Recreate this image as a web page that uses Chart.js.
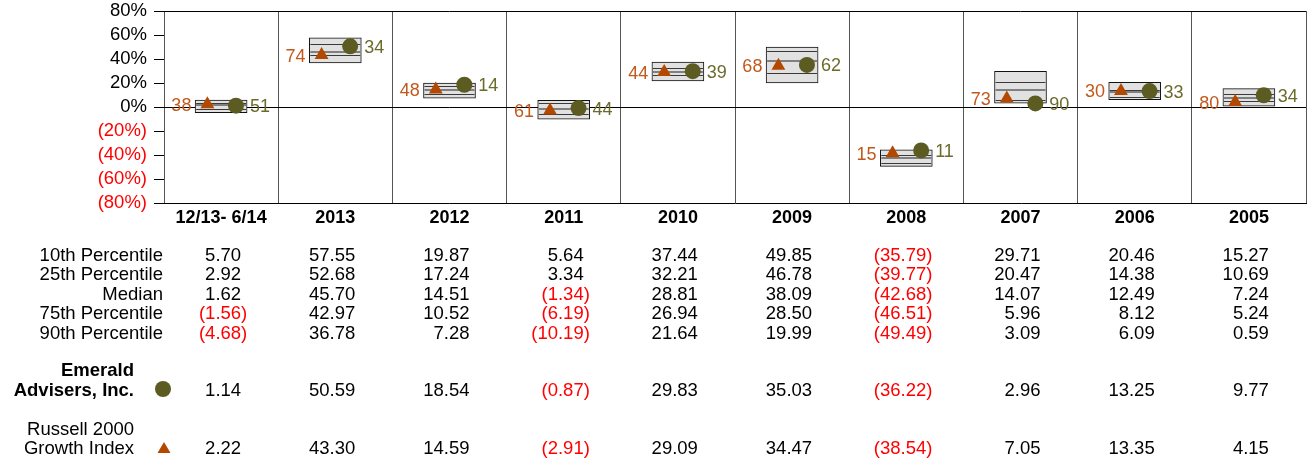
<!DOCTYPE html>
<html>
<head>
<meta charset="utf-8">
<script src="https://cdn.jsdelivr.net/npm/chart.js@4.4.1/dist/chart.umd.min.js"></script>
<style>
  html, body { margin: 0; padding: 0; background: #fff; overflow: hidden; }
  canvas { display: block; }
</style>
</head>
<body>
<canvas id="peerChart" width="1307" height="460"></canvas>
<script>
// periods shown across the chart
const categories = ['12/13- 6/14', '2013', '2012', '2011', '2010', '2009', '2008', '2007', '2006', '2005'];

// peer universe percentiles (returns in %)
const p10 = [5.70, 57.55, 19.87, 5.64, 37.44, 49.85, -35.79, 29.71, 20.46, 15.27];
const p25 = [2.92, 52.68, 17.24, 3.34, 32.21, 46.78, -39.77, 20.47, 14.38, 10.69];
const median = [1.62, 45.70, 14.51, -1.34, 28.81, 38.09, -42.68, 14.07, 12.49, 7.24];
const p75 = [-1.56, 42.97, 10.52, -6.19, 26.94, 28.50, -46.51, 5.96, 8.12, 5.24];
const p90 = [-4.68, 36.78, 7.28, -10.19, 21.64, 19.99, -49.49, 3.09, 6.09, 0.59];

// manager and benchmark
const emerald = [1.14, 50.59, 18.54, -0.87, 29.83, 35.03, -36.22, 2.96, 13.25, 9.77];
const russell = [2.22, 43.30, 14.59, -2.91, 29.09, 34.47, -38.54, 7.05, 13.35, 4.15];
const emeraldRank = [51, 34, 14, 44, 39, 62, 11, 90, 33, 34];
const russellRank = [38, 74, 48, 61, 44, 68, 15, 73, 30, 80];

const yTicks = [-80, -60, -40, -20, 0, 20, 40, 60, 80];

const FONT = '"Liberation Sans", Arial, sans-serif';
const OLIVE = '#5b5b22';
const OLIVE_TEXT = '#6b6b2c';
const ORANGE = '#b34800';
const ORANGE_TEXT = '#c2591b';
const RED = '#ff0000';

function fmt(v) {
    return v < 0 ? '(' + Math.abs(v).toFixed(2) + ')' : v.toFixed(2);
}

function noPadding(scale) {
    scale.paddingLeft = 0;
    scale.paddingRight = 0;
    scale.paddingTop = 0;
    scale.paddingBottom = 0;
}

// the plot frame runs almost to the right edge of the canvas
const stretchRight = {
    id: 'stretchRight',
    afterLayout(chart) {
        const area = chart.chartArea;
        const right = chart.width - 1;
        area.right = right;
        area.width = right - area.left;
        ['x', 'xp'].forEach(id => {
            const s = chart.scales[id];
            s.left = area.left;
            s.right = right;
            s.width = right - area.left;
            s.configure();
        });
    }
};

// 25th / median / 75th lines inside each box
const boxLines = {
    id: 'boxLines',
    afterDatasetDraw(chart, args) {
        if (args.index !== 0) return;
        const ctx = chart.ctx;
        const y = chart.scales.y;
        ctx.save();
        args.meta.data.forEach((bar, i) => {
            const l = bar.x - bar.width / 2 + 1;
            const r = bar.x + bar.width / 2 - 1;
            [[p25[i], '#3a3a3a', 1], [median[i], '#808080', 2], [p75[i], '#3a3a3a', 1]].forEach(([v, c, w]) => {
                const py = Math.round(y.getPixelForValue(v)) + (w === 1 ? 0.5 : 0);
                ctx.strokeStyle = c;
                ctx.lineWidth = w;
                ctx.beginPath();
                ctx.moveTo(l, py);
                ctx.lineTo(r, py);
                ctx.stroke();
            });
        });
        ctx.restore();
    }
};

// rank labels beside the markers
const rankLabels = {
    id: 'rankLabels',
    afterDatasetsDraw(chart) {
        const ctx = chart.ctx;
        ctx.save();
        ctx.font = '18px ' + FONT;
        ctx.textBaseline = 'alphabetic';
        chart.getDatasetMeta(1).data.forEach((pt, i) => {
            ctx.fillStyle = OLIVE_TEXT;
            ctx.textAlign = 'left';
            ctx.fillText(emeraldRank[i], pt.x + 14, pt.y + 6.5);
        });
        chart.getDatasetMeta(2).data.forEach((pt, i) => {
            ctx.fillStyle = ORANGE_TEXT;
            ctx.textAlign = 'right';
            ctx.fillText(russellRank[i], pt.x - 16, pt.y + 6.5);
        });
        ctx.restore();
    }
};

// data table under the chart
const dataTable = {
    id: 'dataTable',
    afterDraw(chart) {
        const ctx = chart.ctx;
        const x = chart.scales.x;
        ctx.save();
        ctx.font = '18.5px ' + FONT;
        ctx.textBaseline = 'alphabetic';
        const parenW = ctx.measureText(')').width;

        const rows = [
            ['10th Percentile', p10, 261],
            ['25th Percentile', p25, 280],
            ['Median', median, 299.5],
            ['75th Percentile', p75, 319],
            ['90th Percentile', p90, 338.5],
            [null, emerald, 396],
            [null, russell, 454]
        ];
        rows.forEach(([label, vals, by]) => {
            if (label) {
                ctx.fillStyle = '#000';
                ctx.textAlign = 'right';
                ctx.fillText(label, 163, by);
            }
            vals.forEach((v, i) => {
                const cx = x.getPixelForValue(i) + 20;
                ctx.textAlign = 'right';
                ctx.fillStyle = v < 0 ? RED : '#000';
                ctx.fillText(fmt(v), v < 0 ? cx + parenW : cx, by);
            });
        });

        // series labels
        ctx.textAlign = 'right';
        ctx.fillStyle = '#000';
        ctx.font = 'bold 18.5px ' + FONT;
        ctx.fillText('Emerald', 134, 376);
        ctx.fillText('Advisers, Inc.', 134, 396);
        ctx.font = '18.5px ' + FONT;
        ctx.fillText('Russell 2000', 134, 435);
        ctx.fillText('Growth Index', 134, 454);

        // legend markers
        ctx.fillStyle = OLIVE;
        ctx.beginPath();
        ctx.arc(163, 389, 8, 0, Math.PI * 2);
        ctx.fill();
        ctx.fillStyle = ORANGE;
        ctx.beginPath();
        ctx.moveTo(164, 442);
        ctx.lineTo(170.5, 453);
        ctx.lineTo(157.5, 453);
        ctx.closePath();
        ctx.fill();
        ctx.restore();
    }
};

const ctx = document.getElementById('peerChart').getContext('2d');
new Chart(ctx, {
    type: 'bar',
    data: {
        labels: categories,
        datasets: [
            {
                label: 'Peer range',
                data: p10.map((v, i) => [p90[i], v]),
                backgroundColor: '#e1e1e1',
                borderColor: '#111',
                borderWidth: 1,
                borderSkipped: false,
                grouped: false,
                barThickness: 52,
                maxBarThickness: 52,
                order: 3
            },
            {
                type: 'scatter',
                label: 'Emerald Advisers, Inc.',
                xAxisID: 'xp',
                data: emerald.map((v, i) => ({ x: i + 0.13, y: v })),
                pointStyle: 'circle',
                pointRadius: 8,
                backgroundColor: OLIVE,
                borderColor: OLIVE,
                borderWidth: 0,
                order: 1
            },
            {
                type: 'scatter',
                label: 'Russell 2000 Growth Index',
                xAxisID: 'xp',
                data: russell.map((v, i) => ({ x: i - 0.12, y: v })),
                pointStyle: 'triangle',
                pointRadius: 8,
                backgroundColor: ORANGE,
                borderColor: ORANGE,
                borderWidth: 0,
                order: 2
            }
        ]
    },
    options: {
        responsive: false,
        animation: false,
        layout: { padding: { top: 11, right: 1, left: 0, bottom: 0 } },
        plugins: {
            legend: { display: false },
            tooltip: { enabled: false }
        },
        scales: {
            x: {
                offset: true,
                grid: {
                    offset: true,
                    color: '#555',
                    lineWidth: 1,
                    drawTicks: false
                },
                border: { display: true, color: '#000' },
                ticks: {
                    color: '#000',
                    font: { family: FONT, size: 18, weight: 'bold' },
                    padding: 4,
                    maxRotation: 0,
                    autoSkip: false
                },
                afterFit(scale) {
                    scale.height = 257;
                    noPadding(scale);
                }
            },
            xp: {
                type: 'linear',
                display: false,
                min: -0.5,
                max: categories.length - 0.5,
                offset: false,
                afterFit: noPadding
            },
            y: {
                min: yTicks[0],
                max: yTicks[yTicks.length - 1],
                afterBuildTicks(scale) { scale.ticks = yTicks.map(v => ({ value: v })); },
                grid: {
                    color: c => (c.tick && (c.tick.value === 0 || c.tick.value === 80)) ? '#000' : 'rgba(0,0,0,0)',
                    tickColor: '#000',
                    tickLength: 10,
                    lineWidth: 1
                },
                border: { display: false },
                ticks: {
                    autoSkip: false,
                    color: c => c.tick.value < 0 ? RED : '#000',
                    font: { family: FONT, size: 18.5 },
                    padding: 7,
                    callback: v => v < 0 ? '(' + Math.abs(v) + '%)' : v + '%'
                },
                afterFit(scale) {
                    scale.width = 164;
                    noPadding(scale);
                }
            }
        }
    },
    plugins: [stretchRight, boxLines, rankLabels, dataTable]
});
</script>
</body>
</html>
